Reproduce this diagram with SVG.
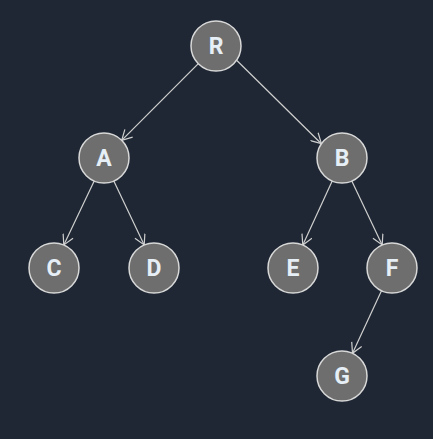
<svg xmlns="http://www.w3.org/2000/svg" width="433" height="439" viewBox="0 0 433 439">
  <style>
    .node circle { fill: #6e6e6e; stroke: #d8d8d8; stroke-width: 1.5; }
    .node text { fill: #e6eef6; font-family: Roboto, "DejaVu Sans", sans-serif; font-weight: bold; font-size: 23px; text-anchor: middle; dominant-baseline: central; }
    .edges line { stroke: #d0d0d0; stroke-width: 1.2; marker-end: url(#arrow); }
  </style>
  <defs>
    <marker id="arrow" viewBox="0 0 12 12" refX="11" refY="6" markerWidth="12" markerHeight="12" markerUnits="userSpaceOnUse" orient="auto">
      <path d="M1,0.5 L11,6 L1,11.5" fill="none" stroke="#d0d0d0" stroke-width="1.2"/>
    </marker>
  </defs>
  <rect width="433" height="439" fill="#1e2733"/>
  <g class="edges">
    <line x1="198.3" y1="63.7" x2="121.7" y2="140.3"/>
    <line x1="236.6" y1="60.3" x2="321.4" y2="143.7"/>
    <line x1="94.2" y1="181" x2="63.8" y2="245"/>
    <line x1="113.8" y1="181" x2="144.2" y2="245"/>
    <line x1="332.2" y1="181" x2="302.8" y2="245"/>
    <line x1="351.8" y1="181" x2="382.2" y2="245"/>
    <line x1="381.5" y1="290.7" x2="352.5" y2="353.3"/>
  </g>
  <g id="node-R" class="node"><circle cx="216" cy="46" r="25"/><text x="216" y="46">R</text></g>
  <g id="node-A" class="node"><circle cx="104" cy="158" r="25"/><text x="104" y="158">A</text></g>
  <g id="node-B" class="node"><circle cx="342" cy="158" r="25"/><text x="342" y="158">B</text></g>
  <g id="node-C" class="node"><circle cx="54" cy="268" r="25"/><text x="54" y="268">C</text></g>
  <g id="node-D" class="node"><circle cx="154" cy="268" r="25"/><text x="154" y="268">D</text></g>
  <g id="node-E" class="node"><circle cx="293" cy="268" r="25"/><text x="293" y="268">E</text></g>
  <g id="node-F" class="node"><circle cx="392" cy="268" r="25"/><text x="392" y="268">F</text></g>
  <g id="node-G" class="node"><circle cx="342" cy="376" r="25"/><text x="342" y="376">G</text></g>
</svg>
